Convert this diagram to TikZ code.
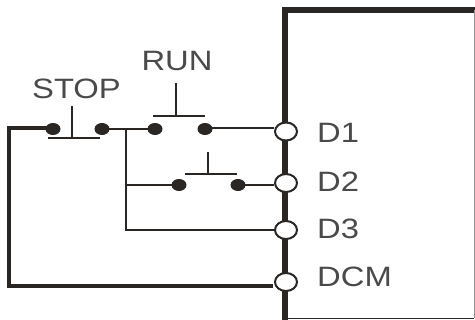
\documentclass[tikz,border=0pt]{standalone}
\usepackage{fontspec}
\setmainfont{Liberation Sans}
\usetikzlibrary{shapes.geometric}
\definecolor{ink}{HTML}{2A2624}
\definecolor{lbl}{HTML}{4A4A4A}
\newcommand{\widetext}[1]{\scalebox{1.17}[1]{#1}}
\tikzset{
 x=1pt,y=-1pt,
 thinwire/.style={draw=ink,line width=1.8pt},
 thickwire/.style={draw=ink,line width=3.6pt},
 boxline/.style={draw=ink,line width=5.4pt},
 contact/.style={ellipse,fill=ink,draw=none,minimum width=15pt,minimum height=12pt,inner sep=0pt},
 terminal/.style={ellipse,draw=ink,fill=white,line width=2pt,minimum width=22pt,minimum height=18pt,inner sep=0pt},
 lab/.style={text=lbl,font=\fontsize{28}{28}\selectfont,inner sep=0pt,anchor=base west},
 btnlab/.style={text=lbl,font=\fontsize{28}{28}\selectfont,inner sep=0pt,anchor=base},
}
\begin{document}
\begin{tikzpicture}
\useasboundingbox (0,0) rectangle (475,320);
\fill[white] (0,0) rectangle (475,320);
% device box
\coordinate (bl) at (285,318.5);
\coordinate (tl) at (285,10);
\coordinate (tr) at (474,10);
\coordinate (br) at (474,318.5);
\draw[boxline,line cap=butt] (285,320) -- (tl) -- (475,10);
\draw[draw=ink,line width=1.8pt] (bl) -- (br);
\draw[draw=lbl!60,line width=.8pt] (tr) -- (br);
% terminals
\node[terminal] (d1) at (286,131.5) {};
\node[terminal] (d2) at (286,183) {};
\node[terminal] (d3) at (286,230) {};
\node[terminal] (dcm) at (286,282) {};
% contacts
\node[contact] (s1) at (53,129) {};
\node[contact] (s2) at (102,129) {};
\node[contact] (r1) at (155,129) {};
\node[contact] (r2) at (205,129) {};
\node[contact] (p1) at (179,185) {};
\node[contact] (p2) at (238,185) {};
% junctions and corners
\coordinate (ja) at (126,128);
\coordinate (jb) at (126,185);
\coordinate (jc) at (126,230);
\coordinate (ca) at (9,128);
\coordinate (cb) at (9,286);
% wires
\draw[thinwire] (s2.center) -- (r1.center);
\draw[thinwire] (r2.center |- ja) -- (d1.west |- ja);
\draw[thinwire] (p2.center) -- (d2.west |- p2);
\draw[thinwire] (jb) -- (p1.center);
\draw[thinwire] (ja) -- (jc) -- (d3.west |- jc);
\draw[thickwire,line join=miter] (s1.center |- ca) -- (ca) -- (cb) -- (273,286);
% buttons
\draw[thinwire] (48,138) -- (100,138) (72,106) -- (72,138);
\draw[thinwire] (153,116) -- (205,116) (176,83) -- (176,116);
\draw[thinwire] (185,174) -- (237,174) (208,152) -- (208,174);
% labels
\node[btnlab] (run) at (177,71) {\widetext{RUN}};
\node[btnlab] (stop) at (76.5,99) {\widetext{STOP}};
\node[lab] (ld1) at (317,143) {\widetext{D1}};
\node[lab] (ld2) at (317,192) {\widetext{D2}};
\node[lab] (ld3) at (317,239) {\widetext{D3}};
\node[lab] (ldcm) at (317,287) {\widetext{DCM}};
\end{tikzpicture}
\end{document}
